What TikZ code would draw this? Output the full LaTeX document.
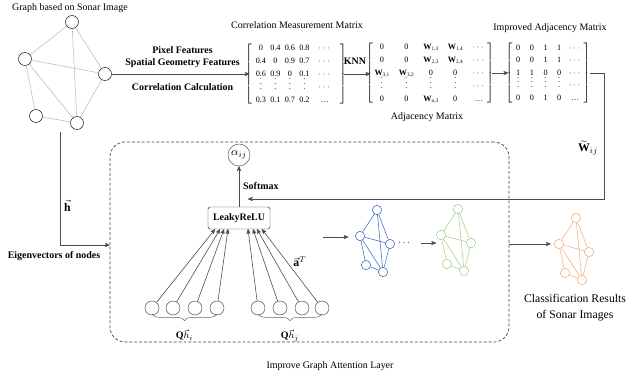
\documentclass[tikz,border=0pt]{standalone}
\usepackage{fontspec}
\setmainfont{Liberation Serif}
\usepackage{amsmath,amssymb}
\usepackage{tikz}
\usetikzlibrary{arrows, calc, matrix, decorations.pathreplacing}
\newcommand{\lblfont}{\fontsize{8.5}{11}\selectfont}
\newcommand{\matfont}{\fontsize{7}{8}\selectfont}
\newcommand{\bigfont}{\fontsize{10}{13.5}\selectfont}
\newcommand{\wij}[1]{\textbf{W}\raisebox{-0.4ex}{\fontsize{4.5}{5}\selectfont #1}}
\definecolor{gblue}{HTML}{4472C4}
\definecolor{ggreen}{HTML}{A9D18E}
\definecolor{gorange}{HTML}{F4B183}
\tikzset{>=stealth', font=\lblfont}
\tikzset{vertex/.style={shape=circle, draw, fill=white, inner sep=0pt, minimum size=3.9mm}}
\tikzset{dot/.style={shape=circle, draw, fill=white, inner sep=0pt, minimum size=2.8mm, line width=0.5pt}}
\tikzset{feat/.style={shape=circle, draw=black!75, fill=white, inner sep=0pt, minimum size=4.2mm}}
\tikzset{link/.style={draw=black!25, line width=0.5pt}}
\tikzset{flow/.style={->, draw=black!70, line width=0.5pt}}
\tikzset{bold/.style={font=\lblfont\bfseries}}
\tikzset{mat/.style={matrix of nodes, left delimiter={[}, right delimiter={]}, inner sep=0pt,
    nodes={font=\matfont, inner sep=0pt, text height=1.8mm, text depth=0.5mm, minimum height=3.9mm}}}

\begin{document}
\begin{tikzpicture}[x=0.03cm, y=-0.03cm]
  \useasboundingbox (0,0) rectangle (626,377);

  % graph from the sonar image
  \node (gtitle) at (70,8) {Graph based on Sonar Image};
  \node[vertex] (gt) at (72,22) {};
  \node[vertex] (gl) at (25,59) {};
  \node[vertex] (gr) at (105,74) {};
  \node[vertex] (gs) at (36,116) {};
  \node[vertex] (gb) at (77,123) {};
  \draw[link] (gt) -- (gl) (gt) -- (gr) (gt) -- (gb) (gl) -- (gr)
    (gl) -- (gb) (gl) -- (gs) (gs) -- (gb) (gr) -- (gb);

  % matrices
  \node (corrtitle) at (297,25) {Correlation Measurement Matrix};
  \matrix (corr) [mat, nodes={minimum width=0.435cm},
      column 5/.style={nodes={minimum width=0.8cm}}] at (296,74) {
    0 & 0.4 & 0.6 & 0.8 & $\cdots$ \\
    0.4 & 0 & 0.9 & 0.7 & $\cdots$ \\
    0.6 & 0.9 & 0 & 0.1 & $\cdots$ \\
    $\vdots$ & $\vdots$ & $\vdots$ & $\vdots$ & $\cdots$ \\
    0.3 & 0.1 & 0.7 & 0.2 & \ldots \\
  };
  \matrix (adj) [mat, nodes={minimum width=0.36cm}, column sep=0.29cm] at (430,73) {
    0 & 0 & \wij{1,3} & \wij{1,4} & $\cdots$ \\
    0 & 0 & \wij{2,3} & \wij{2,4} & $\cdots$ \\
    \wij{3,1} & \wij{3,2} & 0 & 0 & $\cdots$ \\
    $\vdots$ & $\vdots$ & $\vdots$ & $\vdots$ & $\cdots$ \\
    0 & 0 & \wij{n,3} & 0 & \ldots \\
  };
  \node (adjtitle) at (427,117) {Adjacency Matrix};
  \node (imptitle) at (550,28) {Improved Adjacency Matrix};
  \matrix (imp) [mat, nodes={minimum width=0.25cm, minimum height=3.75mm},
      column sep=0.16cm] at (548,73) {
    0 & 0 & 1 & 1 & $\cdots$ \\
    0 & 0 & 1 & 1 & $\cdots$ \\
    1 & 1 & 0 & 0 & $\cdots$ \\
    $\vdots$ & $\vdots$ & $\vdots$ & $\vdots$ & $\cdots$ \\
    0 & 0 & 1 & 0 & \ldots \\
  };

  \draw[flow, shorten >=0.12cm] (gr) -- node[above=0.05cm, align=center, bold]
    {Pixel Features\\Spatial Geometry Features}
    node[below=0.15cm, bold] {Correlation Calculation} (gr -| corr.west);
  \draw[flow, shorten <=0.15cm, shorten >=0.12cm] (corr.east) -- (corr.east -| adj.west);
  \node[bold] (knn) at (355,61) {KNN};
  \draw[flow, shorten <=0.18cm, shorten >=0.17cm] (adj.east) -- (adj.east -| imp.west);

  \coordinate (wturn) at (604,199);
  \coordinate (wend) at (248,199);
  \draw[flow, shorten <=0.25cm] (imp.east) -| (wturn) -- (wend);
  \node[font=\bigfont] (wlabel) at (588,148) {$\widetilde{\mathbf{W}}_{ij}$};

  % attention layer
  \node[draw=black!75, line width=0.6pt, dashed, dash pattern=on 2.5pt off 1.7pt,
    rounded corners=0.45cm, minimum width=11.97cm, minimum height=6cm, inner sep=0pt]
    (gat) at (309.5,242) {};
  \node (gattitle) at (330,366) {Improve Graph Attention Layer};

  \coordinate (hstart) at (60,132);
  \coordinate (hturn) at (60,245);
  \draw[flow] (hstart) -- node[pos=0.65, right, font=\bigfont] {$\vec{\mathbf{h}}$}
    (hturn) -- (hturn -| gat.west);
  \node[bold] (eig) at (54,256) {Eigenvectors of nodes};

  \node[circle, draw=black!70, inner sep=0pt, minimum size=0.66cm, font=\bigfont]
    (alpha) at (239,155) {$\alpha_{ij}$};
  \node[draw=black!80, rounded corners=2pt, minimum width=1.86cm, minimum height=0.66cm,
    bold] (relu) at (239,218) {LeakyReLU};
  \draw[flow] (relu) -- node[right, bold] {Softmax} (alpha);

  \foreach \i/\x in {1/152, 2/173, 3/195, 4/217, 5/258, 6/280, 7/302, 8/322}
    \node[feat] (c\i) at (\x,308) {};
  \foreach \i/\dx in {1/-24, 2/-19, 3/-15, 4/-11, 5/9, 6/14, 7/18, 8/23}
    \draw[flow] (c\i) -- ($(relu.south)+(\dx,0)$);
  \node[font=\bigfont] (aT) at (300,262) {$\vec{\mathbf{a}}^{T}$};

  \draw[decorate, decoration={brace, mirror, amplitude=0.2cm}, draw=black!60]
    ([yshift=-0.18cm]c1.center) -- node[below=0.35cm] {$\mathbf{Q}\vec{h}_i$}
    ([yshift=-0.18cm]c4.center);
  \draw[decorate, decoration={brace, mirror, amplitude=0.2cm}, draw=black!60]
    ([yshift=-0.18cm]c5.center) -- node[below=0.35cm] {$\mathbf{Q}\vec{h}_j$}
    ([yshift=-0.18cm]c8.center);

  % graphs after the layer
  \foreach \p/\col/\x/\y in {blue/gblue/360/236, green/ggreen/441/235, orange/gorange/559/244} {
    \begin{scope}[shift={(\x,\y)}]
      \node[dot, draw=\col] (\p-l) at (0,0) {};
      \node[dot, draw=\col] (\p-t) at (17,-26) {};
      \node[dot, draw=\col] (\p-r) at (30,8) {};
      \node[dot, draw=\col] (\p-s) at (6,29) {};
      \node[dot, draw=\col] (\p-b) at (23,36) {};
      \draw[\col, line width=0.5pt] (\p-t) -- (\p-l) (\p-t) -- (\p-r) (\p-t) -- (\p-b)
        (\p-l) -- (\p-r) (\p-l) -- (\p-b) (\p-l) -- (\p-s) (\p-s) -- (\p-b) (\p-r) -- (\p-b);
    \end{scope}
  }
  \node (more) at (405,243) {$\cdots$};
  \coordinate (gin) at (323,237);
  \draw[flow, shorten >=0.2cm] (gin) -- (gin -| blue-l.west);
  \draw[flow, shorten <=0.15cm] (more.east) -- (more.east -| green-l.west);
  \draw[flow, shorten >=0.1cm] (orange-l -| gat.east) -- (orange-l.west);
  \node[align=center, font=\bigfont] (result) at (575,308) {Classification Results\\of Sonar Images};
\end{tikzpicture}
\end{document}
